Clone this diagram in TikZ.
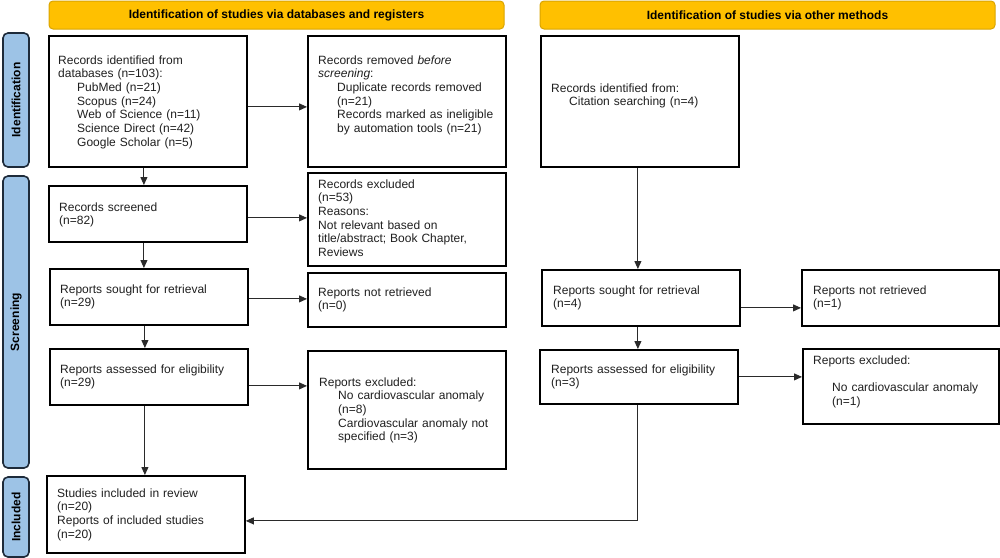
\documentclass[tikz,border=0pt]{standalone}
\usepackage{fontspec}
\setmainfont{Liberation Sans}
\usetikzlibrary{arrows.meta}
\definecolor{hdrfill}{HTML}{FFC000}
\definecolor{hdrdraw}{HTML}{D9A400}
\definecolor{sidefill}{HTML}{9DC3E6}
\definecolor{sidedraw}{HTML}{1E2B3A}
\definecolor{conncol}{HTML}{2A2A2A}
\newcommand{\ind}{\hspace*{19pt}}
\begin{document}
\begin{tikzpicture}[x=1pt,y=-1pt,
  box/.style={draw=black, line width=1.8pt, inner sep=0pt, anchor=north west},
  txt/.style={anchor=base west, inner sep=0pt, text width=260pt, align=left,
              font=\fontsize{12}{13.7}\selectfont, text=black!88},
  hdr/.style={draw=hdrdraw, line width=1pt, fill=hdrfill, rounded corners=4pt,
              inner sep=0pt, font=\fontsize{12}{14}\selectfont\bfseries},
  side/.style={draw=sidedraw, line width=1.6pt, fill=sidefill, rounded corners=5pt,
               inner sep=0pt, rotate=90, minimum height=26pt,
               font=\fontsize{12}{14}\selectfont\bfseries},
  conn/.style={draw=conncol, line width=0.9pt, -{Triangle[length=8pt,width=7pt]}},
  line/.style={draw=conncol, line width=0.9pt}
]
\useasboundingbox (0,0) rectangle (1000,557);

% headers
\node[hdr, minimum width=455pt, minimum height=28pt] (H1) at (276.5,15) {Identification of studies via databases and registers};
\node[hdr, minimum width=455pt, minimum height=28pt] (H2) at (767.5,15) {Identification of studies via other methods};

% side labels
\node[side, minimum width=134pt] (S1) at (16,100) {Identification};
\node[side, minimum width=292pt] (S2) at (16,322) {Screening};
\node[side, minimum width=80pt] (S3) at (16,517) {Included};

% boxes
\node[box, minimum width=198pt, minimum height=131pt] (A) at (48,35) {};
\node[box, minimum width=198pt, minimum height=131pt] (B) at (307,35) {};
\node[box, minimum width=198pt, minimum height=131pt] (C) at (540,35) {};
\node[box, minimum width=198pt, minimum height=56pt] (D) at (48,185) {};
\node[box, minimum width=198pt, minimum height=93pt] (E) at (307,172) {};
\node[box, minimum width=198pt, minimum height=56pt] (F) at (49,268) {};
\node[box, minimum width=198pt, minimum height=54pt] (G) at (307,272) {};
\node[box, minimum width=198pt, minimum height=56pt] (H) at (49,348) {};
\node[box, minimum width=198pt, minimum height=118pt] (I) at (307,350) {};
\node[box, minimum width=198pt, minimum height=77pt] (J) at (46,475) {};
\node[box, minimum width=198pt, minimum height=56pt] (K) at (541,269) {};
\node[box, minimum width=197pt, minimum height=56pt] (L) at (801,269) {};
\node[box, minimum width=198pt, minimum height=54pt] (M) at (539,349) {};
\node[box, minimum width=196pt, minimum height=75pt] (N) at (802,348) {};

% texts
\node[txt] (At) at (58,64) {Records identified from\\ databases (n=103):\\ \ind PubMed (n=21)\\ \ind Scopus (n=24)\\ \ind Web of Science (n=11)\\ \ind Science Direct (n=42)\\ \ind Google Scholar (n=5)};
\node[txt] (Bt) at (318,64) {Records removed \textit{before}\\ \textit{screening}:\\ \ind Duplicate records removed\\ \ind (n=21)\\ \ind Records marked as ineligible\\ \ind by automation tools (n=21)};
\node[txt] (Ct) at (551,92) {Records identified from:\\ \hspace*{18pt}Citation searching (n=4)};
\node[txt] (Dt) at (59,211) {Records screened\\ (n=82)};
\node[txt] (Et) at (318,188) {Records excluded\\ (n=53)\\ Reasons:\\ Not relevant based on\\ title/abstract; Book Chapter,\\ Reviews};
\node[txt] (Ft) at (60,293) {Reports sought for retrieval\\ (n=29)};
\node[txt] (Gt) at (318,296) {Reports not retrieved\\ (n=0)};
\node[txt] (Ht) at (60,373) {Reports assessed for eligibility\\ (n=29)};
\node[txt] (It) at (319,386) {Reports excluded:\\ \ind No cardiovascular anomaly\\ \ind (n=8)\\ \ind Cardiovascular anomaly not\\ \ind specified (n=3)};
\node[txt] (Jt) at (57,497) {Studies included in review\\ (n=20)\\ Reports of included studies\\ (n=20)};
\node[txt] (Kt) at (553,294) {Reports sought for retrieval\\ (n=4)};
\node[txt] (Lt) at (813,294) {Reports not retrieved\\ (n=1)};
\node[txt] (Mt) at (551,373) {Reports assessed for eligibility\\ (n=3)};
\node[txt] (Nt) at (813,364) {Reports excluded:\\[13.7pt] \ind No cardiovascular anomaly\\ \ind (n=1)};

% connectors
\draw[conn] ([yshift=-5.5pt]A.east) -- ([yshift=-5.5pt]A.east -| B.west);
\draw[conn] ([xshift=-4pt]A.south) -- ([xshift=-4pt]A.south |- D.north);
\draw[conn] ([yshift=-4pt]D.east) -- ([yshift=-4pt]D.east -| E.west);
\draw[conn] ([xshift=-4pt]D.south) -- ([xshift=-4pt]D.south |- F.north);
\draw[conn] ([yshift=-2pt]F.east) -- ([yshift=-2pt]F.east -| G.west);
\draw[conn] ([xshift=-4pt]F.south) -- ([xshift=-4pt]F.south |- H.north);
\draw[conn] ([yshift=-9pt]H.east) -- ([yshift=-9pt]H.east -| I.west);
\draw[conn] ([xshift=-4pt]H.south) -- ([xshift=-4pt]H.south |- J.north);
\draw[conn] ([xshift=-2pt]C.south) -- ([xshift=-2pt]C.south |- K.north);
\draw[conn] ([yshift=-10pt]K.east) -- ([yshift=-10pt]K.east -| L.west);
\draw[conn] ([xshift=-3pt]K.south) -- ([xshift=-3pt]K.south |- M.north);
\draw[conn] (M.east) -- (M.east -| N.west);
\draw[conn] ([xshift=-1pt]M.south) |- ([yshift=-6.5pt]J.east);
\end{tikzpicture}
\end{document}
